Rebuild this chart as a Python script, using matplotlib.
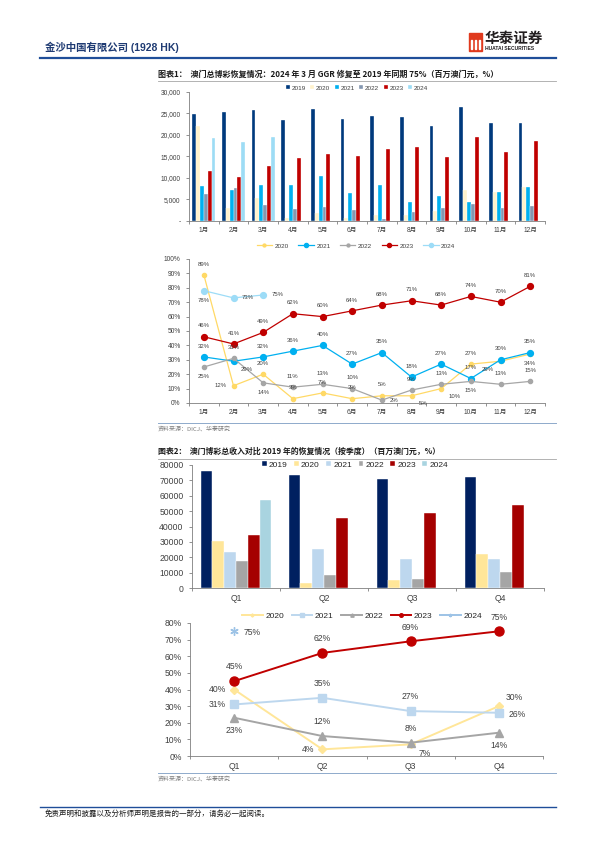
import numpy as np
import matplotlib
matplotlib.use("Agg")
import matplotlib.pyplot as plt
from matplotlib.ticker import FuncFormatter, MultipleLocator
from matplotlib.patches import Rectangle
from matplotlib.lines import Line2D

plt.rcParams['font.family'] = ['Liberation Sans', 'Noto Sans CJK SC']
plt.rcParams['axes.unicode_minus'] = False

# ---- 数据：月度 GGR（百万澳门元）----
months = ['1月', '2月', '3月', '4月', '5月', '6月', '7月', '8月', '9月', '10月', '11月', '12月']
ggr_2019 = [24942, 25370, 25840, 23588, 25952, 23810, 24453, 24262, 22079, 26443, 22877, 22838]
ggr_2020 = [22126, 3104, 5257, 754, 1764, 716, 1344, 1330, 2211, 7270, 6748, 7818]
ggr_2021 = [8024, 7312, 8306, 8401, 10445, 6535, 8444, 4442, 5879, 4365, 6737, 7928]
ggr_2022 = [6344, 7757, 3672, 2677, 3341, 2477, 398, 2189, 2962, 3897, 2999, 3482]
ggr_2023 = [11580, 10324, 12738, 14722, 15565, 15207, 16662, 17213, 14937, 19501, 16040, 18565]
ggr_2024 = [19337, 18486, 19503]

# 月度恢复率（对比 2019 同期，%）
rec_2020 = [89, 12, 20, 3, 7, 3, 5, 5, 10, 27, 29, 34]
rec_2021 = [32, 29, 32, 36, 40, 27, 35, 18, 27, 17, 30, 35]
rec_2022 = [25, 31, 14, 11, 13, 10, 2, 9, 13, 15, 13, 15]
rec_2023 = [46, 41, 49, 62, 60, 64, 68, 71, 68, 74, 70, 81]
rec_2024 = [78, 73, 75]

# ---- 数据：季度 ----
quarters = ['Q1', 'Q2', 'Q3', 'Q4']
q_2019 = [76152, 73350, 70794, 72158]
q_2020 = [30487, 3234, 4885, 21836]
q_2021 = [23642, 25381, 18765, 19030]
q_2022 = [17773, 8495, 5549, 10378]
q_2023 = [34642, 45494, 48812, 54106]
q_2024 = [57326]

qrec_2020 = [40, 4, 7, 30]
qrec_2021 = [31, 35, 27, 26]
qrec_2022 = [23, 12, 8, 14]
qrec_2023 = [45, 62, 69, 75]
qrec_2024 = [75]

years = ['2019', '2020', '2021', '2022', '2023', '2024']

W, H = 596, 842
fig = plt.figure(figsize=(W / 100, H / 100), dpi=100)


def fx(x):
    return x / W


def fy(y):
    return 1 - y / H


def axes_px(x0, y0, x1, y1):
    return fig.add_axes([fx(x0), fy(y1), fx(x1) - fx(x0), (y1 - y0) / H])


def hline(x0, x1, y, color, lw):
    fig.add_artist(Line2D([fx(x0), fx(x1)], [fy(y), fy(y)], color=color, lw=lw,
                          transform=fig.transFigure))


def style_axis(ax, n, fs):
    for s in ['top', 'right']:
        ax.spines[s].set_visible(False)
    for s in ['left', 'bottom']:
        ax.spines[s].set_color('#7f7f7f')
        ax.spines[s].set_linewidth(0.6)
    ax.set_xlim(-0.5, n - 0.5)
    ax.set_xticks(range(n))
    ax.set_xticks(np.arange(-0.5, n, 1.0), minor=True)
    ax.tick_params(axis='x', which='major', length=0, labelsize=fs, colors='#404040', pad=4)
    ax.tick_params(axis='x', which='minor', length=2.5, color='#7f7f7f', width=0.6)
    ax.tick_params(axis='y', length=2.5, color='#7f7f7f', width=0.6, labelsize=fs,
                   labelcolor='#404040')


# ---- 页眉 ----
fig.text(fx(45), fy(47), '金沙中国有限公司 (1928 HK)', fontsize=7.5, fontweight='bold',
         color='#1f3b73', va='center', ha='left')
hline(40, 556, 57.5, '#1f4e99', 1.6)
fig.add_artist(Rectangle((fx(469), fy(51)), fx(13), 18 / H, color='#e03a1e',
                         transform=fig.transFigure))
for k in range(3):
    fig.add_artist(Rectangle((fx(471 + k * 3.8), fy(49)), fx(1.4), 9 / H, color='white',
                             transform=fig.transFigure))
fig.text(fx(485), fy(39), '华泰证券', fontsize=10.5, fontweight='bold', color='#231f20',
         va='center', ha='left')
fig.text(fx(485), fy(49), 'HUATAI SECURITIES', fontsize=3.6, fontweight='bold',
         color='#231f20', va='center', ha='left')

# ---- 图表1 标题 ----
fig.text(fx(158), fy(74), '图表1：  澳门总博彩恢复情况：2024 年 3 月 GGR 修复至 2019 年同期 75%（百万澳门元，%）',
         fontsize=5.8, fontweight='bold', color='#1a1a1a', va='center', ha='left',
         family=['Noto Sans CJK SC', 'Liberation Sans'])
hline(158, 556, 81, '#a6a6a6', 0.6)

# ---- 图表1 柱状图 ----
c_bar1 = ['#003a7d', '#fff2cc', '#00b0f0', '#8497b0', '#c00000', '#9ddcf5']
ax1 = axes_px(189, 92, 545, 221)
x = np.arange(12)
bw = 0.13
series1 = [ggr_2019, ggr_2020, ggr_2021, ggr_2022, ggr_2023, ggr_2024]
for i, (vals, c, lab) in enumerate(zip(series1, c_bar1, years)):
    xx = x[:len(vals)] + (i - 2.5) * bw
    ax1.bar(xx, vals, width=bw, color=c, edgecolor='white', linewidth=0.25, label=lab)
ax1.set_ylim(0, 30000)
ax1.yaxis.set_major_locator(MultipleLocator(5000))
ax1.yaxis.set_major_formatter(FuncFormatter(lambda v, p: '-' if v == 0 else f'{v:,.0f}'))
style_axis(ax1, 12, 4.8)
ax1.set_xticklabels(months)
fig.legend(*ax1.get_legend_handles_labels(), loc='center', bbox_to_anchor=(fx(357), fy(88)),
           ncol=6, frameon=False, fontsize=4.6, handlelength=0.6, handleheight=0.6,
           handletextpad=0.3, columnspacing=0.7, labelcolor='#404040')

# ---- 图表1 折线图 ----
ax2 = axes_px(189, 259, 545, 403)
c_line1 = {'2020': '#ffd966', '2021': '#00b0f0', '2022': '#a6a6a6', '2023': '#c00000',
           '2024': '#9ddcf7'}
ms_line1 = {'2020': 3, '2021': 4.2, '2022': 3, '2023': 4.2, '2024': 4.2}
# 标签位置：a 上 / b 下 / l 左 / r 右 / br 右下 / bl 左下
pos1 = {
    '2020': ['a', 'l', 'a', 'a', 'a', 'a', 'a', 'br', 'br', 'a', 'bl', 'b'],
    '2021': ['a', 'br', 'a', 'a', 'a', 'a', 'a', 'a', 'a', 'a', 'a', 'a'],
    '2022': ['b', 'a', 'b', 'a', 'a', 'a', 'r', 'a', 'a', 'b', 'a', 'a'],
    '2023': ['a'] * 12,
    '2024': ['b', 'r', 'r'],
}
offs = {'a': (0, 6, 'center', 'bottom'), 'b': (0, -5, 'center', 'top'),
        'l': (-5, 0, 'right', 'center'), 'r': (6, 0, 'left', 'center'),
        'br': (5, -4, 'left', 'top'), 'bl': (-5, -4, 'right', 'top')}
rec1 = {'2020': rec_2020, '2021': rec_2021, '2022': rec_2022, '2023': rec_2023,
        '2024': rec_2024}
for yr in ['2020', '2021', '2022', '2023', '2024']:
    vals = rec1[yr]
    ax2.plot(range(len(vals)), vals, color=c_line1[yr], lw=0.9, marker='o',
             ms=ms_line1[yr], label=yr)
    for i, v in enumerate(vals):
        dx, dy, ha, va = offs[pos1[yr][i]]
        ax2.annotate(f'{v}%', (i, v), xytext=(dx, dy), textcoords='offset points',
                     ha=ha, va=va, fontsize=4.3, color='#404040')
ax2.set_ylim(0, 100)
ax2.yaxis.set_major_locator(MultipleLocator(10))
ax2.yaxis.set_major_formatter(FuncFormatter(lambda v, p: f'{v:.0f}%'))
style_axis(ax2, 12, 4.8)
ax2.set_xticklabels(months)
fig.legend(*ax2.get_legend_handles_labels(), loc='center', bbox_to_anchor=(fx(356), fy(246)),
           ncol=5, frameon=False, fontsize=4.6, handlelength=2.4, markerscale=0.7,
           handletextpad=0.4, columnspacing=1.5, labelcolor='#404040')

hline(158, 556, 423, '#8eaacb', 0.7)
fig.text(fx(158), fy(429), '资料来源：DICJ、华泰研究', fontsize=4.3, color='#7f7f7f',
         va='center', ha='left', family=['Noto Sans CJK SC', 'Liberation Sans'])

# ---- 图表2 标题 ----
fig.text(fx(158), fy(451), '图表2：  澳门博彩总收入对比 2019 年的恢复情况（按季度）（百万澳门元，%）',
         fontsize=5.7, fontweight='bold', color='#1a1a1a', va='center', ha='left',
         family=['Noto Sans CJK SC', 'Liberation Sans'])
hline(158, 556, 459, '#a6a6a6', 0.6)

# ---- 图表2 柱状图 ----
c_bar2 = ['#002060', '#ffe699', '#bdd7ee', '#a5a5a5', '#a50000', '#a9d4e0']
ax3 = axes_px(192, 465, 544, 588)
xq = np.arange(4)
bw2 = 0.134
series2 = [q_2019, q_2020, q_2021, q_2022, q_2023, q_2024]
for i, (vals, c, lab) in enumerate(zip(series2, c_bar2, years)):
    xx = xq[:len(vals)] + (i - 2.5) * bw2
    ax3.bar(xx, vals, width=bw2, color=c, edgecolor='white', linewidth=0.3, label=lab)
ax3.set_ylim(0, 80000)
ax3.yaxis.set_major_locator(MultipleLocator(10000))
ax3.yaxis.set_major_formatter(FuncFormatter(lambda v, p: f'{v:.0f}'))
style_axis(ax3, 4, 6.2)
ax3.set_xticklabels(quarters)
fig.legend(*ax3.get_legend_handles_labels(), loc='center', bbox_to_anchor=(fx(355), fy(465)),
           ncol=6, frameon=False, fontsize=6.0, handlelength=0.55, handleheight=0.55,
           handletextpad=0.25, columnspacing=0.8, labelcolor='#262626')

# ---- 图表2 折线图 ----
ax4 = axes_px(190, 623, 543, 756)
c_line2 = {'2020': '#ffe699', '2021': '#bdd7ee', '2022': '#a5a5a5', '2023': '#c00000',
           '2024': '#9dc3e6'}
mk2 = {'2020': 'D', '2021': 's', '2022': '^', '2023': 'o', '2024': (6, 2, 0)}
ms2 = {'2020': 4, '2021': 6, '2022': 6, '2023': 6.5, '2024': 6}
pos2 = {
    '2020': ['l', 'l', 'br', 'ar'],
    '2021': ['l', 'a', 'a', 'r'],
    '2022': ['b', 'a', 'a', 'b'],
    '2023': ['a', 'a', 'a', 'a'],
    '2024': ['r'],
}
offs2 = {'a': (0, 7, 'center', 'bottom'), 'b': (0, -6, 'center', 'top'),
         'l': (-6, 0, 'right', 'center'), 'r': (7, -1, 'left', 'center'),
         'br': (6, -3, 'left', 'top'), 'ar': (5, 3, 'left', 'bottom')}
rec2 = {'2020': qrec_2020, '2021': qrec_2021, '2022': qrec_2022, '2023': qrec_2023,
        '2024': qrec_2024}
for yr in ['2020', '2021', '2022', '2023', '2024']:
    vals = rec2[yr]
    ax4.plot(range(len(vals)), vals, color=c_line2[yr], lw=1.4, marker=mk2[yr],
             ms=ms2[yr], mew=1.0, label=yr)
    for i, v in enumerate(vals):
        dx, dy, ha, va = offs2[pos2[yr][i]]
        ax4.annotate(f'{v}%', (i, v), xytext=(dx, dy), textcoords='offset points',
                     ha=ha, va=va, fontsize=6.2, color='#404040')
ax4.set_ylim(0, 80)
ax4.yaxis.set_major_locator(MultipleLocator(10))
ax4.yaxis.set_major_formatter(FuncFormatter(lambda v, p: f'{v:.0f}%'))
style_axis(ax4, 4, 6.2)
ax4.set_xticklabels(quarters)
fig.legend(*ax4.get_legend_handles_labels(), loc='center', bbox_to_anchor=(fx(362), fy(616)),
           ncol=5, frameon=False, fontsize=6.0, handlelength=2.5, markerscale=0.4,
           handletextpad=0.3, columnspacing=0.9, labelcolor='#262626')

hline(158, 556, 773, '#8eaacb', 0.7)
fig.text(fx(158), fy(779), '资料来源：DICJ、华泰研究', fontsize=4.3, color='#7f7f7f',
         va='center', ha='left', family=['Noto Sans CJK SC', 'Liberation Sans'])

# ---- 页脚 ----
hline(40, 556, 807, '#1f4e99', 1.0)
fig.text(fx(45), fy(814), '免责声明和披露以及分析师声明是报告的一部分，请务必一起阅读。',
         fontsize=5.4, color='#1a1a1a', style='italic', va='center', ha='left',
         family=['Noto Sans CJK SC', 'Liberation Sans'])

fig.savefig('out.png', dpi=100)
